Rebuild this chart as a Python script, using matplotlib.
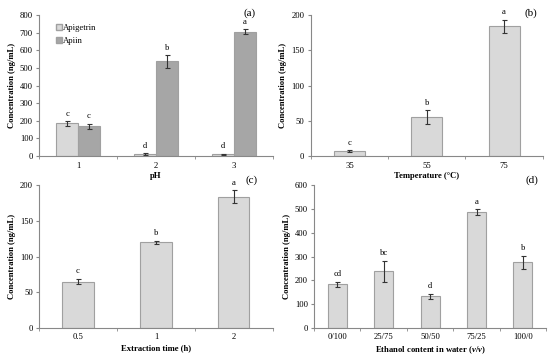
import numpy as np
import matplotlib
matplotlib.use('Agg')
import matplotlib.pyplot as plt
from matplotlib.lines import Line2D

plt.rcParams['font.family'] = 'Liberation Serif'
plt.rcParams['mathtext.fontset'] = 'custom'
plt.rcParams['mathtext.it'] = 'Liberation Serif:italic:bold'
plt.rcParams['mathtext.rm'] = 'Liberation Serif:bold'

# datos de los paneles
ph = ['1', '2', '3']
apigetrin = [185, 12, 10]
apigetrin_err = [12, 3, 3]
apigetrin_let = ['c', 'd', 'd']
apiin = [168, 537, 705]
apiin_err = [15, 35, 14]
apiin_let = ['c', 'b', 'a']

temp = ['35', '55', '75']
temp_val = [7, 55, 184]
temp_err = [1, 10, 9]
temp_let = ['c', 'b', 'a']

tiempo = ['0.5', '1', '2']
tiempo_val = [65, 120, 184]
tiempo_err = [4, 2, 9]
tiempo_let = ['c', 'b', 'a']

etanol = ['0/100', '25/75', '50/50', '75/25', '100/0']
etanol_val = [183, 238, 133, 487, 275]
etanol_err = [10, 45, 10, 12, 28]
etanol_let = ['cd', 'bc', 'd', 'a', 'b']

claro = '#d9d9d9'
oscuro = '#a6a6a6'
borde = '#a0a0a0'
fs = 6.2

fig = plt.figure(figsize=(5.5, 3.58), dpi=100)


def estilo(ax, cats, ymax, paso, xlabel, etiqueta, pos):
    n = len(cats)
    ax.set_xlim(-0.5, n - 0.5)
    ax.set_ylim(0, ymax)
    ax.set_yticks(np.arange(0, ymax + 1, paso))
    ax.set_xticks(range(n))
    ax.set_xticklabels(cats)
    ax.set_xticks(np.arange(-0.5, n, 1.0), minor=True)
    ax.tick_params(axis='x', which='major', length=0, labelsize=fs, pad=4)
    ax.tick_params(axis='x', which='minor', length=2.5, color='#888888')
    ax.tick_params(axis='y', length=2.5, color='#888888', labelsize=fs, pad=2)
    for s in ['top', 'right']:
        ax.spines[s].set_visible(False)
    for s in ['left', 'bottom']:
        ax.spines[s].set_color('#888888')
        ax.spines[s].set_linewidth(0.8)
    ax.set_ylabel('Concentration (ng/mL)', fontsize=fs, fontweight='bold', labelpad=3)
    ax.set_xlabel(xlabel, fontsize=fs, fontweight='bold', labelpad=2)
    ax.text(pos[0], pos[1], etiqueta, transform=ax.transAxes, ha='right', va='center', fontsize=8)


def barras(ax, x, vals, errs, letras, color, ancho, ymax):
    ax.bar(x, vals, ancho, color=color, edgecolor=borde, linewidth=0.8,
           yerr=errs, error_kw=dict(ecolor='#333333', elinewidth=0.8, capsize=1.8, capthick=0.8))
    for xi, v, e, l in zip(x, vals, errs, letras):
        ax.text(xi, v + e + ymax * 0.025, l, ha='center', va='bottom', fontsize=fs)


# (a)
ax = fig.add_axes([0.071, 0.564, 0.425, 0.394])
x = np.arange(len(ph))
w = 0.28
barras(ax, x - w / 2, apigetrin, apigetrin_err, apigetrin_let, claro, w, 800)
barras(ax, x + w / 2, apiin, apiin_err, apiin_let, oscuro, w, 800)
estilo(ax, ph, 800, 100, 'pH', '(a)', (0.925, 1.01))
h = [Line2D([], [], marker='s', ls='', markerfacecolor=claro, markeredgecolor=borde, markersize=4),
     Line2D([], [], marker='s', ls='', markerfacecolor=oscuro, markeredgecolor=borde, markersize=4)]
ax.legend(h, ['Apigetrin', 'Apiin'], loc='upper left', bbox_to_anchor=(0.045, 0.98), frameon=False,
          fontsize=fs, handletextpad=0.1, handlelength=0.8, borderaxespad=0.3, labelspacing=0.6)

# (b)
ax = fig.add_axes([0.565, 0.564, 0.422, 0.394])
barras(ax, np.arange(3), temp_val, temp_err, temp_let, claro, 0.4, 200)
estilo(ax, temp, 200, 50, 'Temperature (°C)', '(b)', (0.975, 1.01))

# (c)
ax = fig.add_axes([0.071, 0.084, 0.425, 0.399])
barras(ax, np.arange(3), tiempo_val, tiempo_err, tiempo_let, claro, 0.4, 200)
estilo(ax, tiempo, 200, 50, 'Extraction time (h)', '(c)', (0.935, 1.035))

# (d)
ax = fig.add_axes([0.571, 0.084, 0.422, 0.399])
barras(ax, np.arange(5), etanol_val, etanol_err, etanol_let, claro, 0.41, 600)
estilo(ax, etanol, 600, 100, 'Ethanol content in water ($\\mathit{v/v}$)', '(d)', (0.965, 1.035))

fig.savefig('out.png', dpi=100)
